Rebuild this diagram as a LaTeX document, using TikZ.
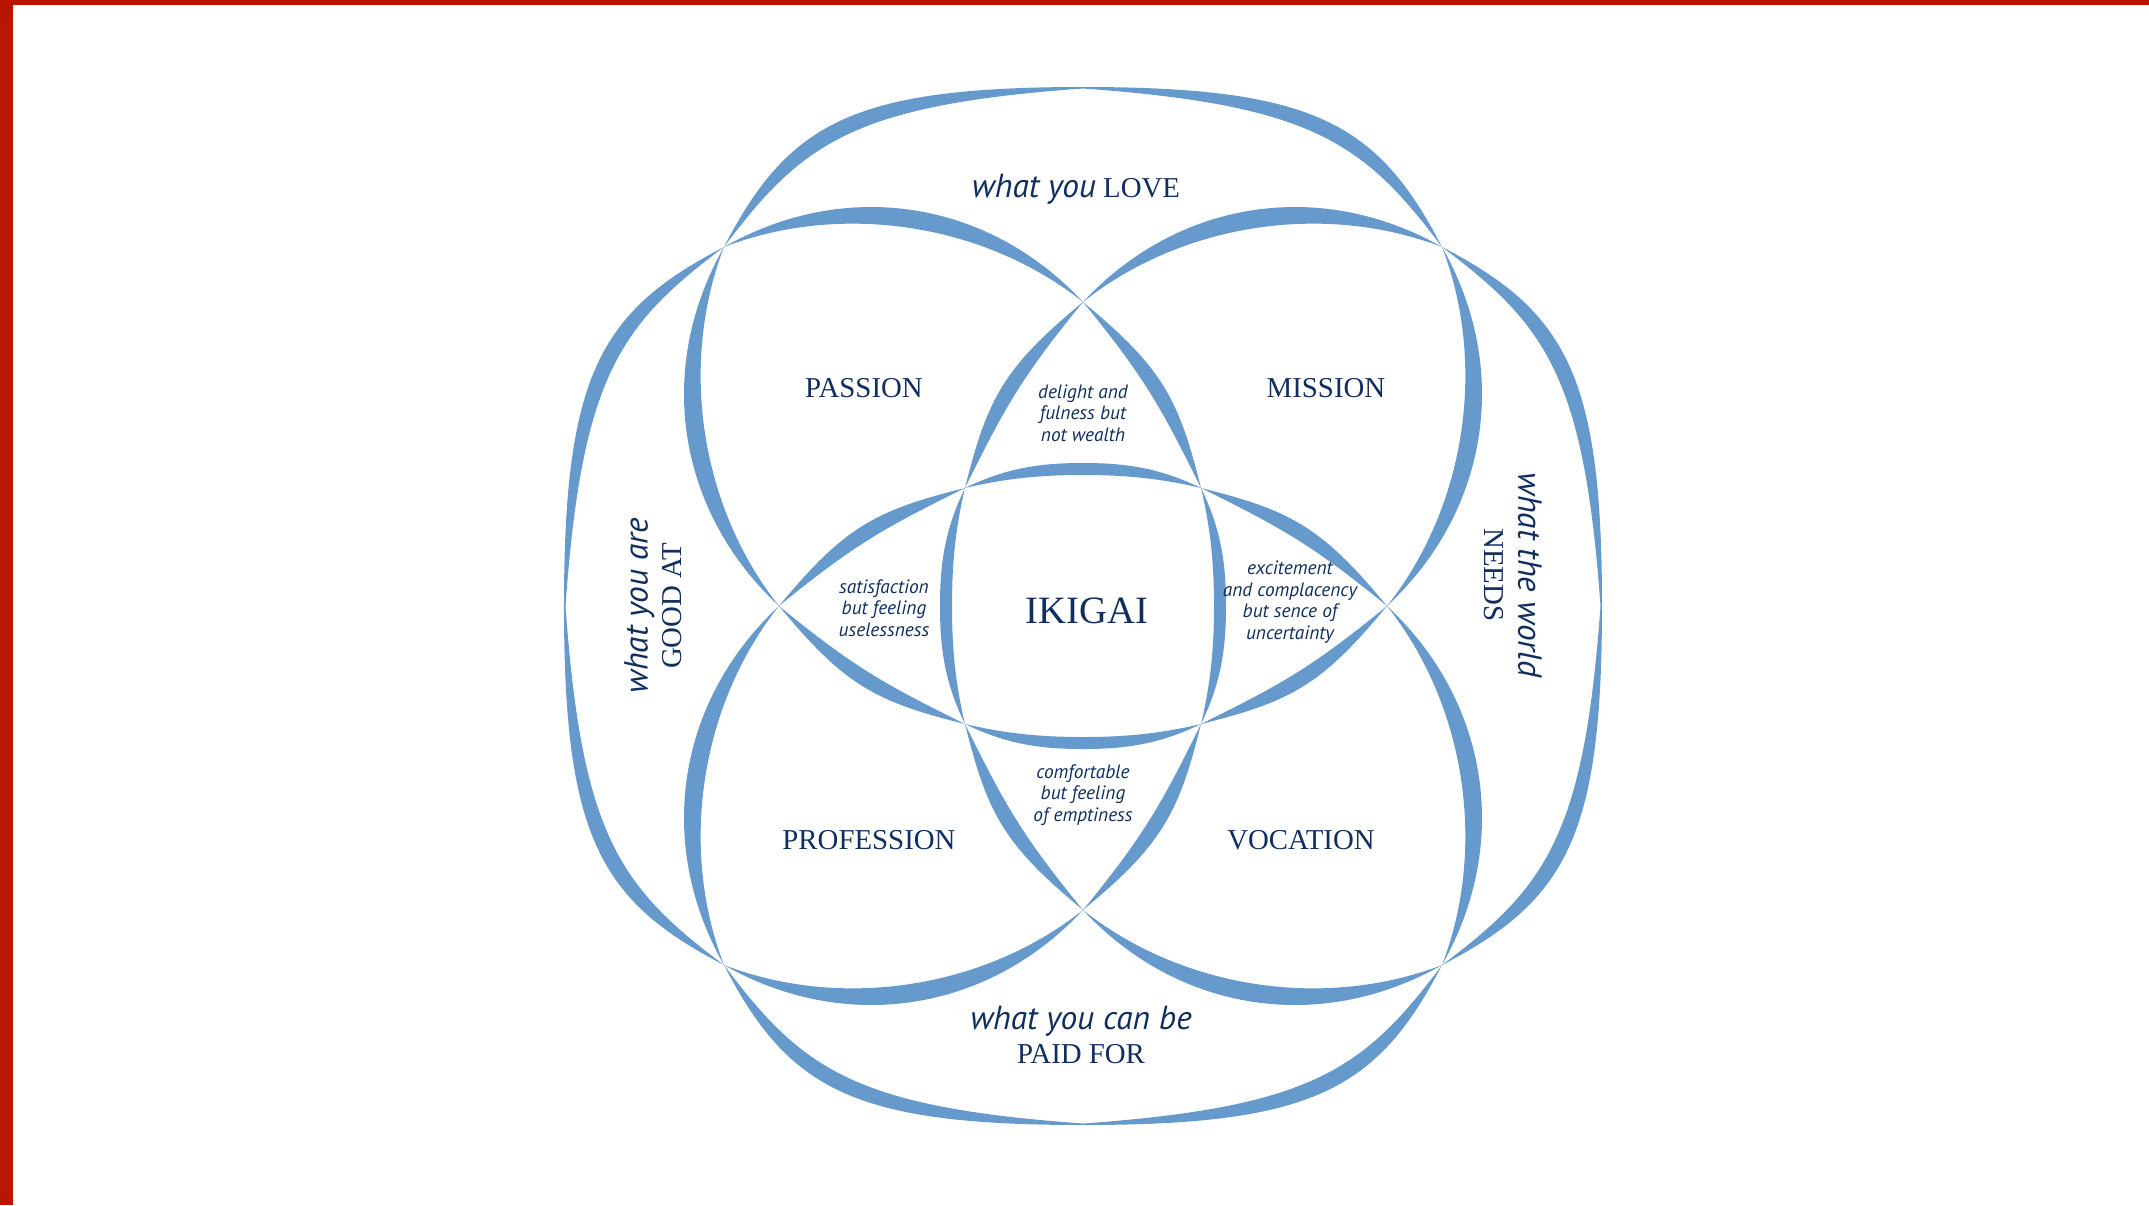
\documentclass[tikz,border=0pt]{standalone}
\usepackage{fontspec}
\setmainfont{Liberation Serif}
\newfontfamily\handfont{PT Sans}
\usepackage{tikz}

\definecolor{petal}{RGB}{102,154,204}
\definecolor{ink}{RGB}{16,46,94}
\definecolor{frame}{RGB}{184,22,0}

\newcommand{\handword}[1]{{\handfont\itshape\fontsize{9.5}{11}\selectfont #1}}

\tikzset{
  caps/.style={text=ink, align=center, font=\fontsize{8.2}{9.6}\selectfont},
  note/.style={text=ink, align=center, font=\handfont\itshape\fontsize{5.5}{6.1}\selectfont},
}

\begin{document}
\begin{tikzpicture}[x=0.01cm, y=0.01cm]
  \useasboundingbox (-1083,-599) rectangle (1066,606);
  % red frame
  \fill[frame] (-1083,-599) rectangle (-1070,606);
  \fill[frame] (-1083,601) rectangle (1066,606);

  % four lobes: one half is drawn, then mirrored and turned
  \foreach \a in {0,90,180,270}{
    \foreach \s in {1,-1}{
      \begin{scope}[rotate=\a, xscale=\s]
        % outer rim
        \fill[petal] (-359,359) .. controls (-294.6,483.6) and (-230,519) .. (0,519)
          -- (0,517.5) .. controls (-230,501) and (-281,463) .. (-359,359) -- cycle;
        % side
        \fill[petal] (-359,359) .. controls (-428.1,237.6) and (-406.3,95.1) .. (-304,0)
          .. controls (-382.5,98.7) and (-404.3,241.2) .. (-359,359) -- cycle;
        % towards the middle
        \fill[petal] (-304,0) .. controls (-238.7,-79.1) and (-208,-95.6) .. (-118,-118)
          .. controls (-197.2,-78.8) and (-227.9,-62.3) .. (-304,0) -- cycle;
        % inner rim
        \fill[petal] (-118,-118) .. controls (-75,-139) and (-40,-143) .. (0,-143)
          -- (0,-131) .. controls (-40,-131) and (-76,-128) .. (-118,-118) -- cycle;
      \end{scope}
    }
  }

  \node[caps] (love) at (-7,417) {\handword{what you} LOVE};
  \node[caps] (passion) at (-219,218) {PASSION};
  \node[caps] (mission) at (243,218) {MISSION};
  \node[note] (delight) at (0,193) {delight and\\fulness but\\not wealth};
  \node[caps, font=\fontsize{11}{13}\selectfont] (ikigai) at (4,-5) {IKIGAI};
  \node[note] (useless) at (-199,-2) {satisfaction\\but feeling\\uselessness};
  \node[note] (uncertain) at (207,4) {excitement\\and complacency\\but sence of\\uncertainty};
  \node[note] (empty) at (0,-189) {comfortable\\but feeling\\of emptiness};
  \node[caps] (profession) at (-214,-234) {PROFESSION};
  \node[caps] (vocation) at (218,-234) {VOCATION};
  \node[caps] (paid) at (-2,-429) {\handword{what you can be}\\PAID FOR};
  \node[caps, rotate=90] (goodat) at (-430,0) {\handword{what you are}\\GOOD AT};
  \node[caps, rotate=-90] (needs) at (430,31) {\handword{what the world}\\NEEDS};
\end{tikzpicture}
\end{document}
